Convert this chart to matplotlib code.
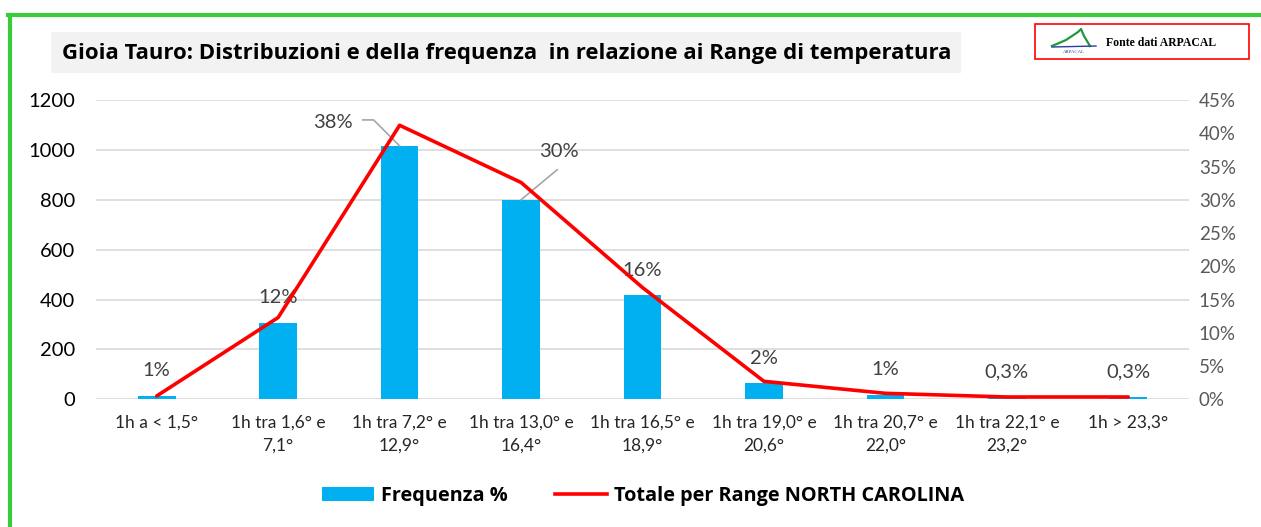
import matplotlib
matplotlib.use("Agg")
import matplotlib.pyplot as plt
import matplotlib.transforms as mtransforms
from matplotlib.patches import Rectangle, Patch
from matplotlib.lines import Line2D

plt.rcParams['font.family'] = ['Lato', 'DejaVu Sans']

# Data
categories = ['1h a < 1,5°', '1h tra 1,6° e\n7,1°', '1h tra 7,2° e\n12,9°',
              '1h tra 13,0° e\n16,4°', '1h tra 16,5° e\n18,9°', '1h tra 19,0° e\n20,6°',
              '1h tra 20,7° e\n22,0°', '1h tra 22,1° e\n23,2°', '1h > 23,3°']
frequenza = [15, 306, 1016, 800, 417, 64, 18, 8, 8]
frequenza_labels = ['1%', '12%', '38%', '30%', '16%', '2%', '1%', '0,3%', '0,3%']
totale_nc = [0.5, 12.3, 41.2, 32.6, 16.8, 2.7, 0.9, 0.35, 0.35]

W, H = 1261, 527
fig = plt.figure(figsize=(W / 100, H / 100), dpi=100)

def fx(px):
    return px / W

def fy(py):
    return 1 - py / H

# green frame
fig.add_artist(Line2D([fx(9.5), fx(9.5)], [fy(15), fy(530)], color='#3CCB3C', lw=3, transform=fig.transFigure))
fig.add_artist(Line2D([fx(8), fx(1265)], [fy(15), fy(15)], color='#3CCB3C', lw=3, transform=fig.transFigure))

# title box
fig.add_artist(Rectangle((fx(51), fy(73)), fx(961) - fx(51), fy(32) - fy(73),
                         transform=fig.transFigure, facecolor='#F2F2F2', edgecolor='none'))
fig.text(fx(62), fy(53), 'Gioia Tauro: Distribuzioni e della frequenza  in relazione ai Range di temperatura',
         fontsize=15.9, fontweight='bold', va='center', ha='left', color='black', family='Open Sans')

# source box with logo
fig.add_artist(Rectangle((fx(1035), fy(59)), fx(1249) - fx(1035), fy(24) - fy(59),
                         transform=fig.transFigure, facecolor='white', edgecolor='#FF0000', lw=1.2))
fig.add_artist(Line2D([fx(1052), fx(1066), fx(1078), fx(1081), fx(1084), fx(1090)],
                      [fy(46), fy(40), fy(32), fy(29), fy(36), fy(46)],
                      color='#1E9A3C', lw=1.6, transform=fig.transFigure))
fig.add_artist(Line2D([fx(1052), fx(1096)], [fy(47), fy(46)], color='#2B3E9C', lw=1.0,
                      transform=fig.transFigure))
fig.text(fx(1074), fy(52), 'ARPACAL', fontsize=3.5, color='#2B3E9C', ha='center', va='center',
         family='Liberation Serif')
fig.text(fx(1106), fy(43), 'Fonte dati ARPACAL', fontsize=8.5, fontweight='bold', ha='left', va='center',
         family='Liberation Serif', color='black')

# main axes
ax = fig.add_axes([fx(96), fy(399.3), fx(1189) - fx(96), fy(100) - fy(399.3)])
x = list(range(len(categories)))
bars = ax.bar(x, frequenza, width=0.31, color='#00B0F0', zorder=2)
ax.set_xlim(-0.5, len(categories) - 0.5)
ax.set_ylim(0, 1200)
ax.set_yticks(range(0, 1201, 200))
ax.set_xticks(x)
ax.set_xticklabels(categories, fontsize=12.5, color='#262626', linespacing=1.55)
ax.tick_params(axis='y', length=0, pad=15, labelsize=14.5, labelcolor='black')
ax.tick_params(axis='x', length=0, pad=11)
ax.grid(axis='y', color='#D9D9D9', lw=1.2, zorder=0)
ax.set_axisbelow(True)
for s in ax.spines.values():
    s.set_visible(False)

# data labels
label_offsets = {2: (-48, 17), 3: (27, 35)}
for i, (v, lab) in enumerate(zip(frequenza, frequenza_labels)):
    dx, dy = label_offsets.get(i, (0, 18))
    ax.annotate(lab, (i, v), xytext=(dx, dy), textcoords='offset points',
                ha='center', va='center', fontsize=14.5, color='#404040', zorder=5)


# leader lines, vertices in points relative to the bar top
def pts_from(xd, yd):
    return (mtransforms.Affine2D().scale(1 / 72) + fig.dpi_scale_trans
            + mtransforms.ScaledTranslation(xd, yd, ax.transData))


ax.plot([-26.6, -18.7, 0], [18.7, 18.7, 0], color='#A6A6A6', lw=1.2,
        transform=pts_from(2, frequenza[2]), zorder=4)
ax.plot([26, 0], [21.6, 0], color='#A6A6A6', lw=1.2,
        transform=pts_from(3, frequenza[3]), zorder=4)

# secondary axis with line
ax2 = ax.twinx()
ax2.plot(x, totale_nc, color='#FF0000', lw=2.6, zorder=3, solid_capstyle='round')
ax2.set_ylim(0, 45)
ax2.set_yticks(range(0, 46, 5))
ax2.set_yticklabels([f'{t}%' for t in range(0, 46, 5)])
ax2.tick_params(axis='y', length=0, pad=7, labelsize=13.5, labelcolor='#595959')
for s in ax2.spines.values():
    s.set_visible(False)

# legend
handles = [Patch(facecolor='#00B0F0', edgecolor='none'),
           Line2D([0], [0], color='#FF0000', lw=2.6)]
fig.legend(handles, ['Frequenza %', 'Totale per Range NORTH CAROLINA'],
           loc='center', bbox_to_anchor=(fx(643), fy(496)), ncol=2, frameon=False,
           prop={'weight': 'bold', 'size': 14.3, 'family': 'Open Sans'}, handlelength=2.6,
           handletextpad=0.35, columnspacing=2.4)

fig.savefig('out.png', dpi=100)
